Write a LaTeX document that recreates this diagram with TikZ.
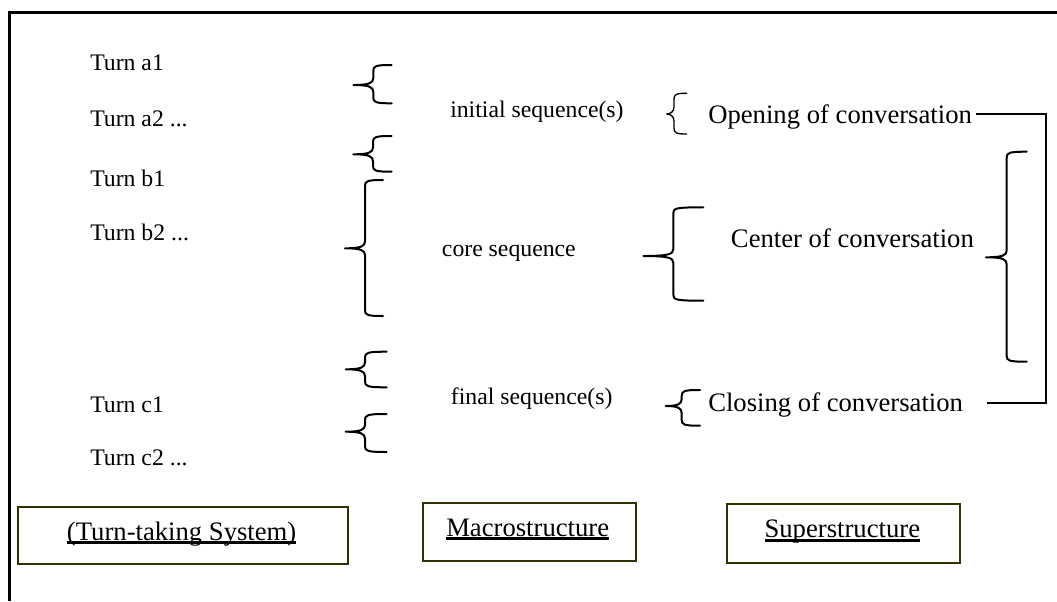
\documentclass[tikz,border=0pt]{standalone}
\usepackage{fontspec}
\setmainfont{Liberation Serif}
\definecolor{boxol}{RGB}{51,51,0}
\newcommand{\myul}[1]{\setbox0\hbox{#1}\rlap{\vrule height -1.1pt depth 3.3pt width \wd0}\box0}
\newcommand{\drawbrace}[7][]{%
  \draw[bracestyle,#1] (#5,#6) .. controls ({#4+2},#6) and (#4,{#6+1}) .. (#4,{#6+6})
    -- (#4,{#3-7})
    .. controls (#4,{#3-2}) and ({#4-4},#3) .. (#2,#3)
    .. controls ({#4-4},#3) and (#4,{#3+2}) .. (#4,{#3+7})
    -- (#4,{#7-6})
    .. controls (#4,{#7-1}) and ({#4+2},#7) .. (#5,#7);}
\begin{document}
\begin{tikzpicture}[x=0.75pt,y=-0.75pt,
  bracestyle/.style={line width=1.5pt,line cap=round,line join=round},
  small/.style={inner sep=0pt,anchor=base west,font=\fontsize{17.8pt}{20pt}\selectfont},
  large/.style={inner sep=0pt,anchor=base west,font=\fontsize{20pt}{23pt}\selectfont},
  labelbox/.style={draw=boxol,line width=1.5pt,inner sep=0pt,anchor=north west},
  bracket/.style={line width=1.2pt}]
\useasboundingbox (0,0) rectangle (1057,601);
% frame
\draw[line width=2.25pt] (9,601) -- (9,12.7) -- (1057,12.7);
% left column
\node[small] (ta1) at (90,70) {Turn a1};
\node[small] (ta2) at (90,126.7) {Turn a2 ...};
\node[small] (tb1) at (90,186.7) {Turn b1};
\node[small] (tb2) at (90,240.7) {Turn b2 ...};
\node[small] (tc1) at (90,412.3) {Turn c1};
\node[small] (tc2) at (90,465) {Turn c2 ...};
% middle column
\node[small] (init) at (450,117) {initial sequence(s)};
\node[small] (core) at (441.7,256) {core sequence};
\node[small] (final) at (450.7,404) {final sequence(s)};
% right column
\node[large] (open) at (708,123.3) {Opening of conversation};
\node[large] (center) at (730.7,247) {Center of conversation};
\node[large] (close) at (708,411.7) {Closing of conversation};
% braces
\drawbrace{353.3}{85}{373.3}{391.7}{65}{103.3}
\drawbrace{353.3}{154.3}{373}{391.7}{136}{171.7}
\drawbrace{345}{248.3}{365}{383}{180}{316}
\drawbrace{345.7}{369.3}{365}{386.7}{351.7}{387.3}
\drawbrace{345.7}{431.7}{365}{386.7}{414}{452}
\drawbrace[line width=1pt]{666.7}{114}{674}{686.7}{93.3}{134}
\drawbrace{643.3}{256}{673.3}{703.3}{207.3}{300.7}
\drawbrace{665.7}{406}{681.7}{700}{390}{425.7}
\drawbrace{986}{257.3}{1006.7}{1026.7}{151.7}{361.7}
% bracket joining opening and closing
\coordinate (bx) at (1046,0);
\path ([shift={(4,-9.3)}]open.base east) coordinate (p1)
      ([shift={(24,-9)}]close.base east) coordinate (p2);
\draw[bracket] (p1) -- (p1 -| bx) -- (p2 -| bx) -- (p2);
% bottom boxes
\node[labelbox,minimum width=247.05pt,minimum height=43.2pt] (b1) at (17.3,505.7) {};
\node[labelbox,minimum width=159.975pt,minimum height=43.725pt] (b2) at (421.7,501.7) {};
\node[labelbox,minimum width=174.525pt,minimum height=43.8pt] (b3) at (726,503.3) {};
\node[large] (l1) at (66.7,540) {\myul{(Turn-taking System)}};
\node[large] (l2) at (446,536) {\myul{Macrostructure}};
\node[large] (l3) at (764.3,537.7) {\myul{Superstructure}};
\end{tikzpicture}
\end{document}
